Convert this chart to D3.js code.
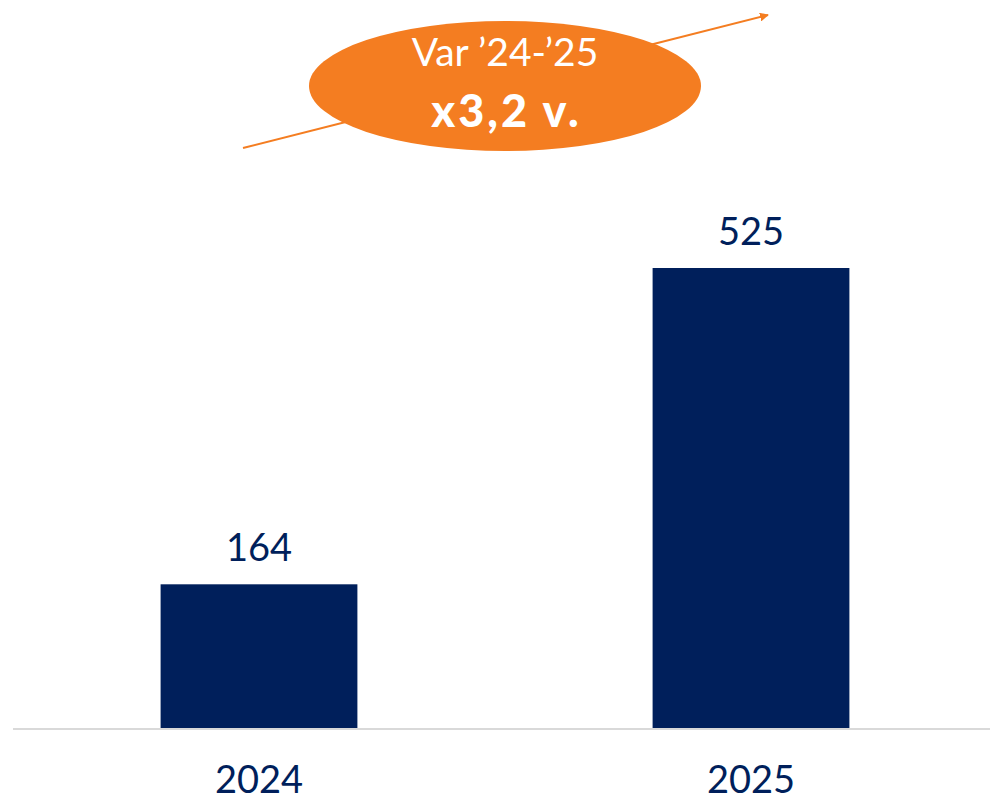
<!DOCTYPE html>
<html><head><meta charset="utf-8">
<script src="https://cdn.jsdelivr.net/npm/d3@7"></script>
<style>html,body{margin:0;padding:0;background:#fff;}svg{display:block;}</style>
</head><body>
<script>
const categories = ["2024", "2025"];
const values = [164, 525];
const badgeTitle = "Var \u201924-\u201925";
const badgeValue = "x3,2 v.";

const W = 990, H = 801;
const navy = "#001F5B", orange = "#F47D21";
const font = "Lato, 'Open Sans', sans-serif";

const svg = d3.select("body").append("svg").attr("width", W).attr("height", H);

const x = d3.scaleBand().domain(categories).range([13, 997]).paddingInner(0.6).paddingOuter(0.3);
const y = d3.scaleLinear().domain([0, 525]).range([728, 268]);

// baseline
svg.append("line").attr("x1", 13).attr("x2", W).attr("y1", y(0) + 1).attr("y2", y(0) + 1)
  .attr("stroke", "#d9d9d9").attr("stroke-width", 2);

svg.selectAll("rect.bar").data(values).join("rect").attr("class", "bar")
  .attr("x", (d, i) => x(categories[i])).attr("width", x.bandwidth())
  .attr("y", d => y(d)).attr("height", d => y(0) - y(d)).attr("fill", navy);

svg.selectAll("text.val").data(values).join("text").attr("class", "val")
  .attr("x", (d, i) => x(categories[i]) + x.bandwidth() / 2).attr("y", d => y(d) - 23)
  .attr("text-anchor", "middle").attr("fill", navy)
  .style("font-family", font).style("font-size", "38px").text(d => d);

svg.selectAll("text.cat").data(categories).join("text").attr("class", "cat")
  .attr("x", d => x(d) + x.bandwidth() / 2).attr("y", 793)
  .attr("text-anchor", "middle").attr("fill", navy)
  .style("font-family", font).style("font-size", "38px").text(d => d);

// arrow
const defs = svg.append("defs");
defs.append("marker").attr("id", "ah").attr("viewBox", "0 0 10 10").attr("refX", 9).attr("refY", 5)
  .attr("markerWidth", 9).attr("markerHeight", 9).attr("markerUnits", "userSpaceOnUse").attr("orient", "auto")
  .append("path").attr("d", "M0,0 L10,5 L0,10 z").attr("fill", orange);
svg.append("line").attr("x1", 243).attr("y1", 148).attr("x2", 768).attr("y2", 15)
  .attr("stroke", orange).attr("stroke-width", 2).attr("marker-end", "url(#ah)");

svg.append("ellipse").attr("cx", 505).attr("cy", 86).attr("rx", 196).attr("ry", 65).attr("fill", orange);
svg.append("text").attr("x", 505).attr("y", 66).attr("text-anchor", "middle").attr("fill", "#fff")
  .style("font-family", font).style("font-size", "39px").text(badgeTitle);
svg.append("text").attr("x", 506.5).attr("y", 127).attr("text-anchor", "middle").attr("fill", "#fff")
  .style("font-family", font).style("font-size", "45px").style("font-weight", "900")
  .style("letter-spacing", "3px").text(badgeValue);
</script>
</body></html>
